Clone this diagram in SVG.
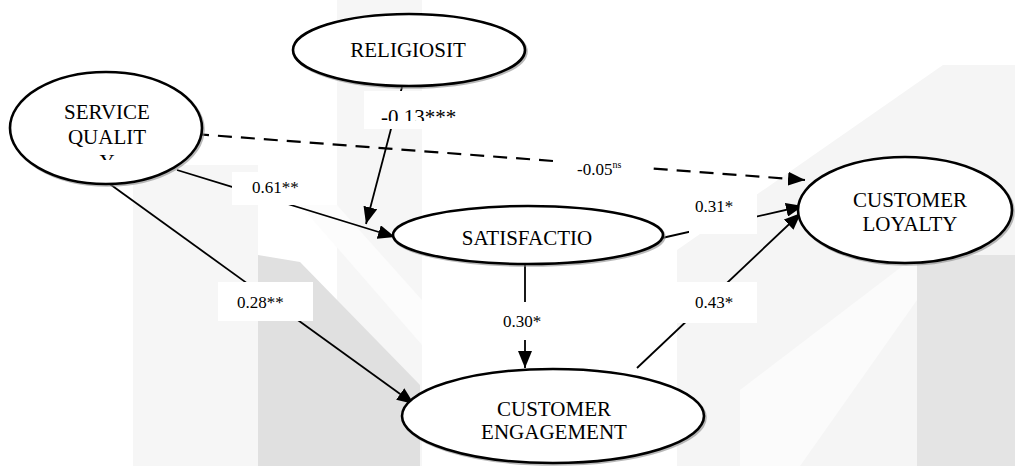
<svg xmlns="http://www.w3.org/2000/svg" width="1015" height="466" viewBox="0 0 1015 466">
  <style>
    .node { fill: #ffffff; stroke: #000000; stroke-width: 2.6; }
    .shadow { fill: none; stroke: #8a8a8a; stroke-width: 2.6; opacity: 0.6; }
    .name { font-size: 21px; fill: #000000; text-anchor: middle; }
    .path { fill: none; stroke: #000000; stroke-width: 1.8; marker-end: url(#head); }
    .dash { stroke-dasharray: 14 9; stroke-width: 2.2; }
    .box { fill: #ffffff; stroke: none; }
    .coef { font-size: 17px; fill: #000000; }
    .big { font-size: 21px; }
    .sup { font-size: 10px; }
  </style>
  <defs>
    <marker id="head" markerUnits="userSpaceOnUse" markerWidth="18" markerHeight="14" refX="17" refY="7" orient="auto">
      <path d="M0,0 L17,7 L0,14 Z" fill="#000000"/>
    </marker>
    <clipPath id="clipSQ"><rect x="0" y="0" width="220" height="160"/></clipPath>
    <clipPath id="clipRel"><rect x="360" y="90" width="110" height="31"/></clipPath>
  </defs>

  <!-- faint backdrop -->
  <g id="backdrop">
    <rect width="1015" height="466" fill="#ffffff"/>
    <rect x="133" y="165" width="125" height="301" fill="#f6f6f6"/>
    <rect x="337" y="0" width="85" height="466" fill="#f6f6f6"/>
    <polygon points="300,205 337,205 422,300 422,345" fill="#fcfcfc"/>
    <polygon points="258,255 300,262 420,385 420,466 258,466" fill="#e0e0e0"/>
    <polygon points="677,466 677,250 943,65 1015,65 1015,466" fill="#f5f5f5"/>
    <polygon points="740,466 740,390 917,255 917,300 800,466" fill="#fbfbfb"/>
    <rect x="917" y="255" width="98" height="211" fill="#e4e4e4"/>
  </g>

  <!-- paths between constructs -->
  <g id="connectors">
    <line class="path dash" x1="195" y1="134" x2="805" y2="180"/>
    <line class="path" x1="177" y1="170" x2="395" y2="237"/>
    <line class="path" x1="402" y1="87" x2="366" y2="224"/>
    <line class="path" x1="107" y1="182" x2="414" y2="404"/>
    <line class="path" x1="525" y1="264" x2="525" y2="368"/>
    <line class="path" x1="662" y1="238" x2="803" y2="206"/>
    <line class="path" x1="637" y1="368" x2="801" y2="213"/>
  </g>

  <!-- path coefficients -->
  <g id="labels" font-family="'Liberation Serif', 'DejaVu Serif', serif">
    <rect class="box" x="232" y="172" width="68" height="33"/>
    <text class="coef" x="252" y="193">0.61**</text>

    <rect class="box" x="364" y="91" width="100" height="38"/>
    <text class="coef big" x="381" y="124" clip-path="url(#clipRel)">-0.13***</text>

    <rect class="box" x="557" y="150" width="88" height="32"/>
    <text class="coef" x="577" y="175">-0.05<tspan class="sup" dy="-7">ns</tspan></text>

    <rect class="box" x="218" y="282" width="95" height="39"/>
    <text class="coef" x="237" y="308">0.28**</text>

    <rect class="box" x="484" y="302" width="60" height="38"/>
    <text class="coef" x="503" y="327">0.30*</text>

    <rect class="box" x="689" y="190" width="68" height="44"/>
    <text class="coef" x="695" y="212">0.31*</text>

    <rect class="box" x="677" y="282" width="80" height="41"/>
    <text class="coef" x="695" y="308">0.43*</text>
  </g>

  <g id="service-quality" font-family="'Liberation Serif', 'DejaVu Serif', serif">
    <ellipse class="shadow" cx="107.5" cy="129.5" rx="96" ry="56"/>
    <ellipse class="node" cx="106" cy="128" rx="96" ry="56"/>
    <g clip-path="url(#clipSQ)">
      <text class="name" x="107" y="119">SERVICE</text>
      <text class="name" x="107" y="144">QUALIT</text>
      <text class="name" x="107" y="169">Y</text>
    </g>
  </g>

  <g id="religiosity" font-family="'Liberation Serif', 'DejaVu Serif', serif">
    <ellipse class="shadow" cx="410.5" cy="51.5" rx="116" ry="36"/>
    <ellipse class="node" cx="409" cy="50" rx="116" ry="36"/>
    <text class="name" x="408" y="57">RELIGIOSIT</text>
  </g>

  <g id="satisfaction" font-family="'Liberation Serif', 'DejaVu Serif', serif">
    <ellipse class="shadow" cx="529.5" cy="236.5" rx="135" ry="29"/>
    <ellipse class="node" cx="528" cy="235" rx="135" ry="29"/>
    <text class="name" x="527" y="245">SATISFACTIO</text>
  </g>

  <g id="customer-loyalty" font-family="'Liberation Serif', 'DejaVu Serif', serif">
    <ellipse class="shadow" cx="906.5" cy="211.5" rx="107" ry="53"/>
    <ellipse class="node" cx="905" cy="210" rx="107" ry="53"/>
    <text class="name" x="910" y="207">CUSTOMER</text>
    <text class="name" x="910" y="231">LOYALTY</text>
  </g>

  <g id="customer-engagement" font-family="'Liberation Serif', 'DejaVu Serif', serif">
    <ellipse class="shadow" cx="554.5" cy="417.5" rx="151" ry="47"/>
    <ellipse class="node" cx="553" cy="416" rx="151" ry="47"/>
    <text class="name" x="554" y="416">CUSTOMER</text>
    <text class="name" x="554" y="439">ENGAGEMENT</text>
  </g>
</svg>
